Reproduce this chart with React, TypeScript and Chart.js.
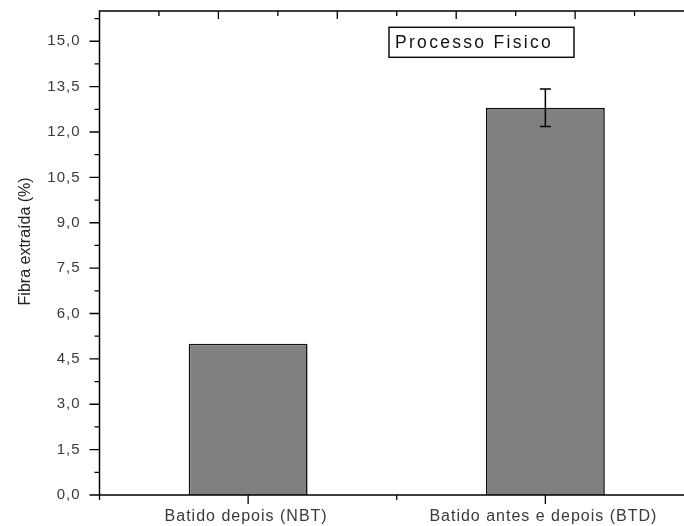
import React, { useEffect, useRef } from 'react';
import { Chart, registerables } from 'chart.js';

Chart.register(...registerables);

const categories = ['Batido depois (NBT)', 'Batido antes e depois (BTD)'];
const fibraValues = [5.0, 12.8];
const fibraErrors = [0, 0.62];
const yTickValues = [0, 1.5, 3, 4.5, 6, 7.5, 9, 10.5, 12, 13.5, 15];
const legendText = 'Processo Fisico';
const yTitleText = 'Fibra extraída (%)';

const FONT = '"Liberation Sans", Arial, sans-serif';

const framePlugin = {
  id: 'originFrame',
  beforeDraw(chart: any) {
    chart.ctx.letterSpacing = '1px';
  },
  afterDatasetsDraw(chart: any) {
    const { ctx, scales } = chart;
    const x = scales.x;
    const y = scales.y;
    ctx.save();
    ctx.strokeStyle = '#000';
    ctx.lineWidth = 1.5;
    fibraValues.forEach((v, i) => {
      const e = fibraErrors[i];
      if (!e) return;
      const px = x.getPixelForValue(i);
      const yTop = y.getPixelForValue(v + e);
      const yBot = y.getPixelForValue(v - e);
      ctx.beginPath();
      ctx.moveTo(px, yTop);
      ctx.lineTo(px, yBot);
      ctx.moveTo(px - 5.5, yTop);
      ctx.lineTo(px + 5.5, yTop);
      ctx.moveTo(px - 5.5, yBot);
      ctx.lineTo(px + 5.5, yBot);
      ctx.stroke();
    });
    ctx.restore();
  },
  afterDraw(chart: any) {
    const { ctx, chartArea: ca, scales } = chart;
    const x = scales.x;
    const y = scales.y;
    ctx.save();
    ctx.letterSpacing = '0px';
    ctx.strokeStyle = '#000';
    ctx.lineWidth = 1.5;
    ctx.beginPath();
    ctx.moveTo(ca.left, ca.top);
    ctx.lineTo(ca.left, ca.bottom);
    ctx.moveTo(ca.left - 0.75, ca.bottom);
    ctx.lineTo(ca.right, ca.bottom);
    ctx.moveTo(ca.left - 0.75, ca.top);
    ctx.lineTo(ca.right, ca.top);
    ctx.stroke();

    ctx.lineWidth = 1.3;
    ctx.beginPath();
    for (let i = 0; i < yTickValues.length; i++) {
      const v = yTickValues[i];
      const py = y.getPixelForValue(v);
      ctx.moveTo(ca.left - 10, py);
      ctx.lineTo(ca.left, py);
      const step = i + 1 < yTickValues.length ? yTickValues[i + 1] - v : yTickValues[1] - yTickValues[0];
      const mv = v + step / 2;
      if (mv < y.max) {
        const pm = y.getPixelForValue(mv);
        ctx.moveTo(ca.left - 5, pm);
        ctx.lineTo(ca.left, pm);
      }
    }
    for (let i = 0; i < categories.length; i++) {
      const px = x.getPixelForValue(i);
      ctx.moveTo(px, ca.bottom);
      ctx.lineTo(px, ca.bottom + 9);
    }
    for (let i = -1; i < categories.length; i++) {
      const px = x.getPixelForValue(i + 0.5);
      if (px > ca.right) continue;
      ctx.moveTo(px, ca.bottom);
      ctx.lineTo(px, ca.bottom + 5);
    }
    for (let k = 1; k < 20; k++) {
      const px = x.getPixelForValue(-0.5 + k * 0.2);
      if (px >= ca.right - 1) break;
      const len = k % 2 === 0 ? 8 : 5;
      ctx.moveTo(px, ca.top);
      ctx.lineTo(px, ca.top + len);
    }
    ctx.stroke();

    ctx.save();
    ctx.translate(25.5, ca.top + (ca.bottom - ca.top) * 0.476);
    ctx.rotate(-Math.PI / 2);
    ctx.font = `16px ${FONT}`;
    ctx.fillStyle = '#222';
    ctx.textAlign = 'center';
    ctx.textBaseline = 'middle';
    ctx.fillText(yTitleText, 0, 0);
    ctx.restore();

    const bx = ca.left + 289.5;
    const by = ca.top + 16.3;
    const bw = 185;
    const bh = 30;
    ctx.fillStyle = '#fff';
    ctx.fillRect(bx, by, bw, bh);
    ctx.lineWidth = 1.5;
    ctx.strokeStyle = '#111';
    ctx.strokeRect(bx, by, bw, bh);
    ctx.font = `17.5px ${FONT}`;
    ctx.letterSpacing = '2.3px';
    ctx.fillStyle = '#111';
    ctx.textAlign = 'left';
    ctx.textBaseline = 'middle';
    ctx.fillText(legendText, bx + 6, by + bh / 2 + 1);
    ctx.restore();
  },
};

export default function App() {
  const canvasRef = useRef<HTMLCanvasElement | null>(null);

  useEffect(() => {
    document.body.style.margin = '0';
    document.body.style.overflow = 'hidden';
    const canvas = canvasRef.current;
    if (!canvas) return;
    Chart.defaults.font.family = FONT;
    const chart = new Chart(canvas, {
      type: 'bar',
      data: {
        labels: categories,
        datasets: [
          {
            label: legendText,
            data: fibraValues,
            backgroundColor: '#808080',
            borderColor: '#111',
            borderWidth: 1.6,
            barPercentage: 0.4,
            categoryPercentage: 1,
          },
        ],
      },
      options: {
        responsive: false,
        animation: false,
        devicePixelRatio: 1,
        layout: { padding: { top: 11, left: 0, right: 0, bottom: 0 } },
        plugins: {
          legend: { display: false },
          tooltip: { enabled: false },
          title: { display: false },
        },
        scales: {
          x: {
            type: 'category',
            offset: true,
            grid: { display: false, drawTicks: false, offset: true },
            border: { display: false },
            ticks: {
              padding: 12,
              labelOffset: -2,
              color: '#3a3a3a',
              font: { size: 16, family: FONT },
              maxRotation: 0,
              autoSkip: false,
            },
            afterFit: (s: any) => {
              s.height = 31;
              s.paddingLeft = 0;
              s.paddingRight = 0;
              s.paddingTop = 0;
              s.paddingBottom = 0;
            },
          },
          y: {
            min: 0,
            max: 16,
            afterBuildTicks: (s: any) => {
              s.ticks = yTickValues.map((v) => ({ value: v }));
            },
            afterFit: (s: any) => {
              s.width = 99.5;
              s.paddingTop = 0;
              s.paddingBottom = 0;
              s.paddingLeft = 0;
              s.paddingRight = 0;
            },
            grid: { display: false, drawTicks: false },
            border: { display: false },
            ticks: {
              padding: 19,
              color: '#3a3a3a',
              font: { size: 15, family: FONT },
              callback: (v: any) => Number(v).toFixed(1).replace('.', ','),
            },
          },
        },
      },
      plugins: [framePlugin],
    });
    return () => chart.destroy();
  }, []);

  return (
    <div style={{ width: 684, height: 526, overflow: 'hidden', position: 'relative', background: '#fff' }}>
      <canvas ref={canvasRef} width={694} height={526} style={{ display: 'block' }} />
    </div>
  );
}
